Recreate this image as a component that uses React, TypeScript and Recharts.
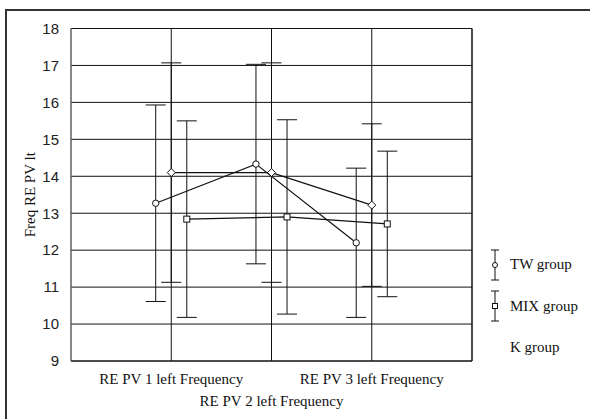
import { ScatterChart, Scatter, XAxis, YAxis, CartesianGrid, ErrorBar, ReferenceLine, Legend, Label } from 'recharts';

const categories = ['RE PV 1 left Frequency', 'RE PV 2 left Frequency', 'RE PV 3 left Frequency'];
const yTicks = [9, 10, 11, 12, 13, 14, 15, 16, 17, 18];
const groups = ['TW group', 'MIX group', 'K group'];

const twMeans = [13.27, 14.33, 12.2];
const twErrors = [2.66, 2.7, 2.02];
const mixMeans = [12.84, 12.9, 12.71];
const mixErrors = [2.66, 2.63, 1.97];
const kMeans = [14.1, 14.1, 13.22];
const kErrors = [2.97, 2.97, 2.2];

const SERIF = '"Liberation Serif", "Times New Roman", serif';
const SANS = '"Liberation Sans", Arial, sans-serif';

// groups are drawn side by side around each category line
const build = (means: number[], errors: number[], shift: number) =>
  means.map((m, i) => ({ x: i + 1 + shift, y: m, err: errors[i] }));

const twData = build(twMeans, twErrors, -0.155);
const mixData = build(mixMeans, mixErrors, 0.155);
const kData = build(kMeans, kErrors, 0);

const Marker = ({ cx, cy, kind }: any) => {
  if (cx == null || cy == null) return null;
  if (kind === 'circle') return <circle cx={cx} cy={cy} r={3.2} fill="#fff" stroke="#111" strokeWidth={1} />;
  if (kind === 'square') return <rect x={cx - 3} y={cy - 3} width={6} height={6} fill="#fff" stroke="#111" strokeWidth={1} />;
  return <path d={`M${cx},${cy - 4}L${cx + 4},${cy}L${cx},${cy + 4}L${cx - 4},${cy}Z`} fill="#fff" stroke="#111" strokeWidth={1} />;
};

const CategoryTick = ({ x, y, payload }: any) => {
  const label = categories[Math.round(payload.value) - 1];
  const dy = Math.round(payload.value) === 2 ? 37 : 15;
  return (
    <text x={x} y={y} dy={dy} textAnchor="middle" fontFamily={SERIF} fontSize={15} fill="#111">
      {label}
    </text>
  );
};

const legendKinds: Record<string, string> = { 'TW group': 'circle', 'MIX group': 'square', 'K group': 'none' };

const LegendBox = ({ payload }: any) => {
  const items = [...(payload || [])].sort((a: any, b: any) => groups.indexOf(a.value) - groups.indexOf(b.value));
  return (
    <div>
      {items.map((entry: any) => {
        const kind = legendKinds[entry.value];
        return (
          <div key={entry.value} style={{ display: 'flex', alignItems: 'center', height: 41.5 }}>
            <svg width={24} height={34}>
              {kind !== 'none' && (
                <g stroke="#111" strokeWidth={1}>
                  <line x1={9} y1={2} x2={9} y2={32} />
                  <line x1={5} y1={2} x2={13} y2={2} />
                  <line x1={5} y1={32} x2={13} y2={32} />
                  {kind === 'circle'
                    ? <circle cx={9} cy={17} r={2.5} fill="#fff" />
                    : <rect x={6.5} y={14.5} width={5} height={5} fill="#fff" />}
                </g>
              )}
            </svg>
            <span style={{ fontFamily: SERIF, fontSize: 15, color: '#111' }}>{entry.value}</span>
          </div>
        );
      })}
    </div>
  );
};

export default function App() {
  return (
    <div style={{ position: 'absolute', left: 0, top: 0, width: 590, height: 419, background: '#fff', overflow: 'hidden' }}>
      <div style={{ position: 'absolute', left: 5, top: 9, width: 700, height: 500, borderTop: '2px solid #333', borderLeft: '2px solid #333' }} />
      <ScatterChart width={590} height={419} margin={{ top: 28.5, right: 118, bottom: 0, left: 0 }} style={{ position: 'absolute', left: 0, top: 0 }}>
        <CartesianGrid stroke="#111" strokeWidth={1} horizontal vertical />
        <XAxis
          type="number"
          dataKey="x"
          domain={[0, 4]}
          ticks={[1, 2, 3]}
          height={58}
          tickLine={false}
          axisLine={{ stroke: '#111' }}
          tick={<CategoryTick />}
          interval={0}
        />
        <YAxis
          type="number"
          dataKey="y"
          domain={[9, 18]}
          ticks={yTicks}
          width={71}
          tickLine={false}
          tickMargin={6}
          axisLine={{ stroke: '#888' }}
          tick={{ fontFamily: SANS, fontSize: 15, fill: '#222' }}
        >
          <Label value="Freq RE PV lt" angle={-90} position="center" dx={-6} style={{ fontFamily: SERIF, fontSize: 15, fill: '#111' }} />
        </YAxis>
        <ReferenceLine x={4} stroke="#111" />
        <Legend layout="vertical" align="center" verticalAlign="middle" wrapperStyle={{ left: 486, top: 244, width: 104 }} content={<LegendBox />} />
        <Scatter name="TW group" data={twData} line={{ stroke: '#111', strokeWidth: 1.2 }} shape={<Marker kind="circle" />} isAnimationActive={false}>
          <ErrorBar dataKey="err" direction="y" width={10} stroke="#111" strokeWidth={1} />
        </Scatter>
        <Scatter name="MIX group" data={mixData} line={{ stroke: '#111', strokeWidth: 1.2 }} shape={<Marker kind="square" />} isAnimationActive={false}>
          <ErrorBar dataKey="err" direction="y" width={10} stroke="#111" strokeWidth={1} />
        </Scatter>
        <Scatter name="K group" data={kData} line={{ stroke: '#111', strokeWidth: 1.2 }} shape={<Marker kind="diamond" />} isAnimationActive={false}>
          <ErrorBar dataKey="err" direction="y" width={10} stroke="#111" strokeWidth={1} />
        </Scatter>
      </ScatterChart>
    </div>
  );
}
